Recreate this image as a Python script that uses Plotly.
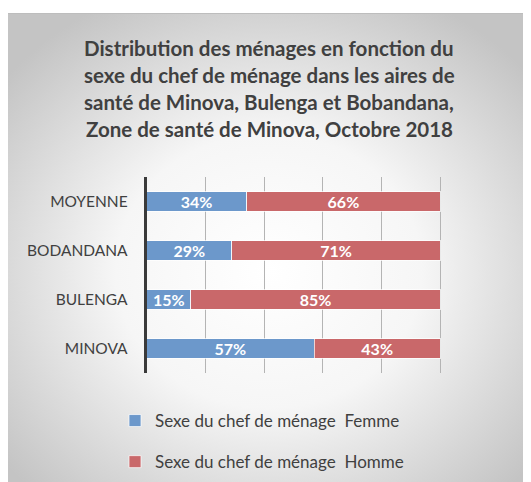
import base64
import plotly.graph_objects as go

categories = ["MINOVA", "BULENGA", "BODANDANA", "MOYENNE"]
femme = [0.57, 0.15, 0.29, 0.34]
homme = [0.43, 0.85, 0.71, 0.66]
series_names = ["Sexe du chef de ménage  Femme", "Sexe du chef de ménage  Homme"]
title_lines = [
    "Distribution des ménages en fonction du",
    "sexe du chef de ménage dans les aires de",
    "santé de Minova, Bulenga et Bobandana,",
    "Zone de santé de Minova, Octobre 2018",
]

W, H = 531, 482
OFF = 8  # page body margin offset
FONT = "Lato"
TXT = "#404040"

def px(x):
    return (x - OFF) / W

def py(y):
    return 1 - (y - OFF) / H

svg = '''<svg xmlns="http://www.w3.org/2000/svg" width="524" height="469" viewBox="0 0 524 469">
<defs><radialGradient id="g" cx="50%" cy="55%" r="65%">
<stop offset="0" stop-color="#ffffff"/><stop offset="0.45" stop-color="#f6f6f6"/><stop offset="1" stop-color="#c4c4c4"/>
</radialGradient></defs>
<rect x="0" y="0" width="524" height="469" fill="url(#g)"/>
<line x1="0" y1="0.5" x2="524" y2="0.5" stroke="#bdbdbd" stroke-width="1"/>
</svg>'''
bg_uri = "data:image/svg+xml;base64," + base64.b64encode(svg.encode()).decode()

fig = go.Figure()
for vals, name, color, grp in [(femme, series_names[0], "#6C98CB", "f"),
                               (homme, series_names[1], "#C9686A", "h")]:
    fig.add_trace(go.Bar(
        y=categories, x=vals, orientation="h", name=name,
        marker=dict(color=color, line=dict(color="rgba(255,255,255,0.7)", width=1)),
        text=[f"{round(v*100)}%" for v in vals], textposition="inside",
        insidetextanchor="middle", textangle=0, constraintext="none",
        textfont=dict(family=FONT, size=16, color="white", weight="bold"),
        legendgroup=grp, hoverinfo="skip",
    ))

x0, x1 = 146.7, 499.0
y0, y1 = 177.0, 373.0

annotations = []
title_y = [48, 75, 102, 129]
for line, yy in zip(title_lines, title_y):
    annotations.append(dict(
        text=f"<b>{line}</b>", xref="paper", yref="paper",
        x=px(269), y=py(yy), xanchor="center", yanchor="middle",
        showarrow=False, font=dict(family=FONT, size=20.5, color=TXT),
    ))

fig.update_layout(
    width=W, height=H,
    margin=dict(l=0, r=0, t=0, b=0),
    paper_bgcolor="white", plot_bgcolor="rgba(0,0,0,0)",
    barmode="stack", bargap=0.61,
    showlegend=True,
    legend=dict(
        x=px(115), y=py(403), xanchor="left", yanchor="top",
        traceorder="grouped", tracegroupgap=16,
        font=dict(family=FONT, size=17, color=TXT),
        bgcolor="rgba(0,0,0,0)",
    ),
    xaxis=dict(
        domain=[px(x0), px(x1)], range=[0, 1.2], dtick=0.2, tick0=0,
        showticklabels=False, showgrid=True, gridcolor="#b4b4b4", gridwidth=1,
        zeroline=False, showline=False, fixedrange=True,
    ),
    yaxis=dict(
        domain=[py(y1), py(y0)], showgrid=False,
        showline=True, linecolor="#3a3a3a", linewidth=3,
        ticks="", ticklabelstandoff=13,
        tickfont=dict(family=FONT, size=15.5, color=TXT), fixedrange=True,
    ),
    images=[dict(
        source=bg_uri, xref="paper", yref="paper",
        x=px(7), y=py(13), sizex=524 / W, sizey=469 / H,
        xanchor="left", yanchor="top", sizing="stretch", layer="below",
    )],
    annotations=annotations,
)

fig.write_html("out.html")
